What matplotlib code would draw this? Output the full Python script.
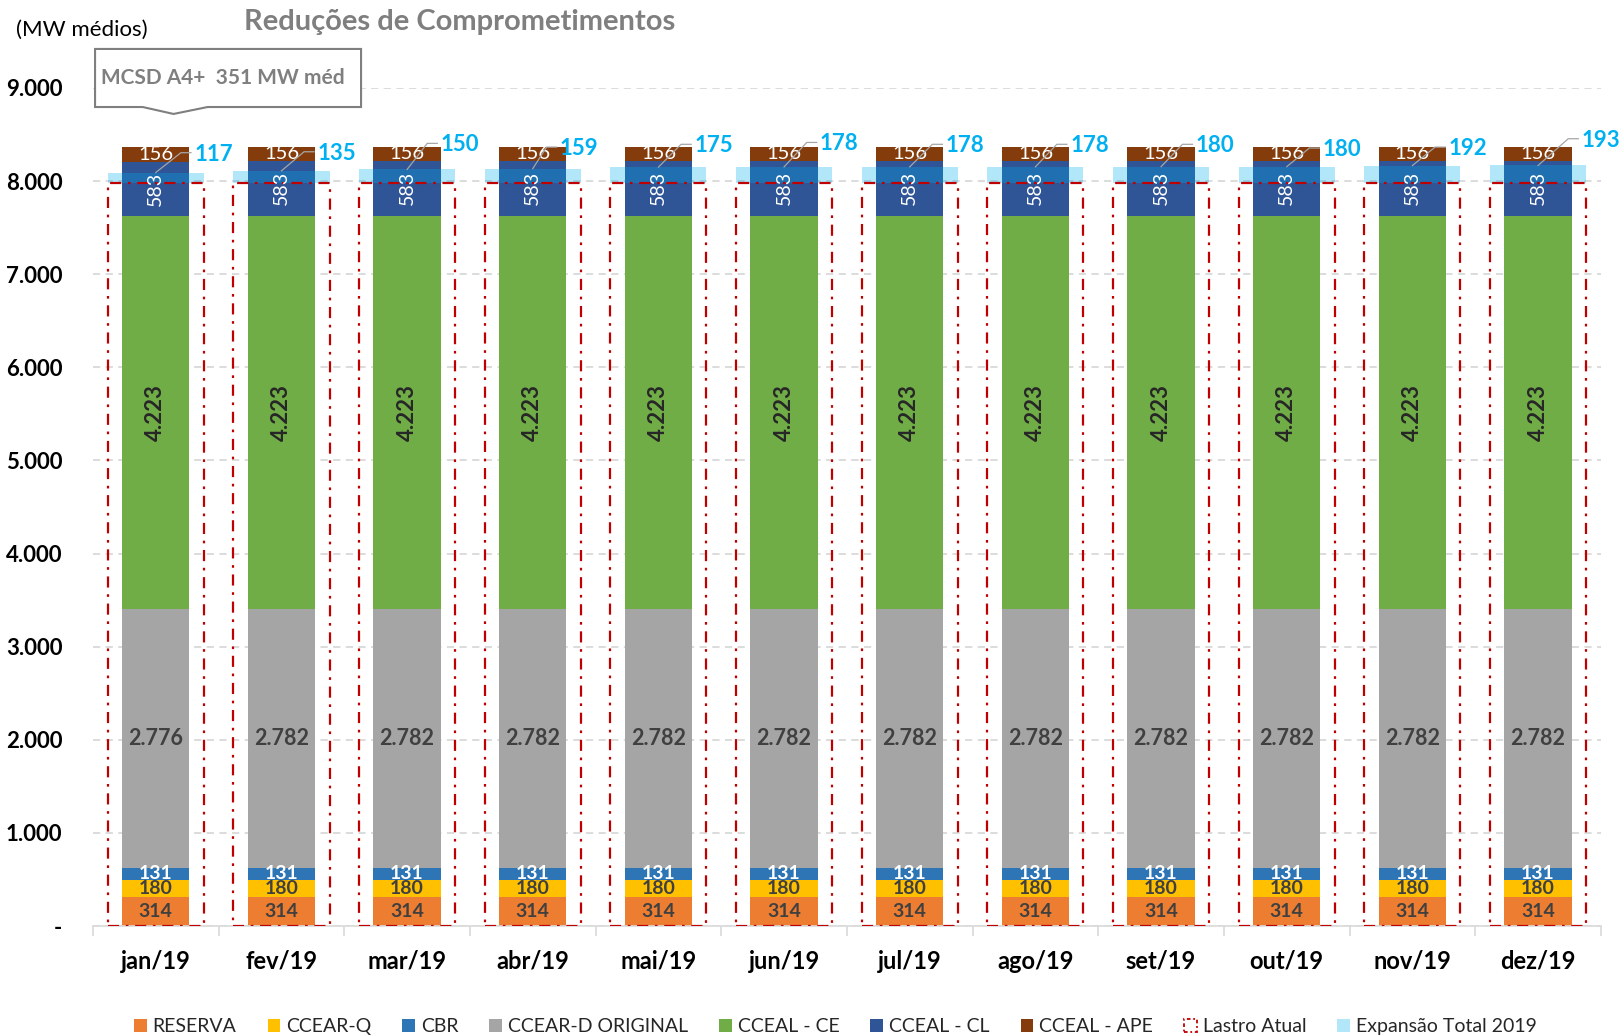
import numpy as np
import matplotlib.pyplot as plt
from matplotlib.patches import Polygon, Patch

plt.rcParams['font.family'] = ['Lato', 'DejaVu Sans']

# dados (MW médios)
meses = ['jan/19', 'fev/19', 'mar/19', 'abr/19', 'mai/19', 'jun/19',
         'jul/19', 'ago/19', 'set/19', 'out/19', 'nov/19', 'dez/19']
reserva = [314] * 12
ccear_q = [180] * 12
cbr = [131] * 12
ccear_d = [2776] + [2782] * 11
cceal_ce = [4223] * 12
cceal_cl = [583] * 12
cceal_ape = [156] * 12
lastro = [7975] * 12
expansao = [117, 135, 150, 159, 175, 178, 178, 178, 180, 180, 192, 193]

# posicao dos rotulos da expansao (estilo)
lab_dx = [0.46, 0.44, 0.42, 0.37, 0.44, 0.44, 0.44, 0.43, 0.43, 0.44, 0.44, 0.50]
lab_y = [8290, 8300, 8390, 8350, 8380, 8400, 8380, 8380, 8380, 8340, 8350, 8440]

series = [
    ('RESERVA', reserva, '#ED7D31', '#404040', 0, 'bold', 14),
    ('CCEAR-Q', ccear_q, '#FFC000', '#404040', 0, 'bold', 14),
    ('CBR', cbr, '#2E75B6', 'white', 0, 'bold', 14),
    ('CCEAR-D ORIGINAL', ccear_d, '#A5A5A5', '#404040', 0, 'bold', 15.5),
    ('CCEAL - CE', cceal_ce, '#70AD47', '#262626', 90, 'bold', 16),
    ('CCEAL - CL', cceal_cl, '#2F5597', 'white', 90, 'normal', 14),
    ('CCEAL - APE', cceal_ape, '#843C0C', 'white', 0, 'normal', 14.5),
]


def fmt(v):
    return f'{v:,}'.replace(',', '.')


fig = plt.figure(figsize=(16.22, 10.35), dpi=100)
ax = fig.add_axes([0.0573, 0.1053, 0.9297, 0.8097])

x = np.arange(len(meses))
bottom = np.zeros(len(meses))
handles = []
for nome, vals, cor, tcor, rot, peso, fs in series:
    vals = np.array(vals)
    ax.bar(x, vals, 0.535, bottom=bottom, color=cor, edgecolor='none', zorder=2)
    for xi, v, b0 in zip(x, vals, bottom):
        ax.text(xi, b0 + v / 2, fmt(v), ha='center', va='center', rotation=rot,
                color=tcor, fontsize=fs, fontweight=peso, zorder=6)
    handles.append(Patch(facecolor=cor, label=nome))
    bottom = bottom + vals

# expansao total 2019 (sobre o lastro)
ax.bar(x, expansao, 0.765, bottom=lastro, color='#00B0F0', alpha=0.3,
       edgecolor='none', zorder=4)
# lastro atual
ax.bar(x, lastro, 0.765, fill=False, edgecolor='#C00000', lw=1.6,
       linestyle=(0, (5, 3, 1.2, 3)), zorder=5)

for xi, e, lo, dx, ly in zip(x, expansao, lastro, lab_dx, lab_y):
    ax.plot([xi, xi + dx - 0.26, xi + dx - 0.18], [lo + e, ly + 15, ly + 15],
            color='#A6A6A6', lw=0.9, zorder=7)
    ax.text(xi + dx, ly, str(e), ha='center', va='center', color='#00B0F0',
            fontsize=16, fontweight='bold', zorder=7)

handles.append(Patch(facecolor='none', edgecolor='#C00000', lw=1.3,
                     linestyle=(0, (2, 1.5, 1, 1.5)), label='Lastro Atual'))
handles.append(Patch(facecolor='#00B0F0', alpha=0.3, label='Expansão Total 2019'))

ax.set_xlim(-0.5, 11.5)
ax.set_ylim(0, 9000)
ax.set_yticks(np.arange(0, 9001, 1000))
ax.set_yticklabels(['-'] + [fmt(v) for v in range(1000, 9001, 1000)],
                   fontsize=16, fontweight='bold')
ax.tick_params(axis='y', length=0, pad=22)
ax.set_xticks(x)
ax.set_xticklabels(meses, fontsize=17, fontweight='bold')
ax.set_xticks(np.arange(-0.5, 12, 1), minor=True)
ax.tick_params(axis='x', which='major', length=0, pad=17)
ax.tick_params(axis='x', which='minor', length=7, color='#D9D9D9', width=1.2)
ax.grid(axis='y', color='#D9D9D9', lw=1.3, linestyle=(0, (4, 3)), zorder=0)
ax.set_axisbelow(True)
for s in ['top', 'right', 'left']:
    ax.spines[s].set_visible(False)
ax.spines['bottom'].set_color('#D9D9D9')
ax.spines['bottom'].set_linewidth(1.2)

fig.legend(handles=handles, loc='lower center', bbox_to_anchor=(0.515, -0.017),
           ncol=9, frameon=False, fontsize=14, handlelength=0.65, handleheight=0.65,
           handletextpad=0.3, columnspacing=1.6, labelcolor='#262626')

# titulo e unidade
fig.text(0.2836, 0.979, 'Reduções de Comprometimentos', ha='center', va='center',
         fontsize=21, fontweight='bold', color='#7F7F7F')
fig.text(0.0099, 0.971, '(MW médios)', ha='left', va='center', fontsize=16)

# caixa MCSD
x0, x1, yt, yb = 0.0586, 0.2226, 0.9527, 0.8966
caixa = Polygon([(x0, yt), (x1, yt), (x1, yb), (0.128, yb), (0.107, 0.8899),
                 (0.088, yb), (x0, yb)], closed=True, facecolor='white',
                edgecolor='#7F7F7F', lw=1.5, transform=fig.transFigure, zorder=5)
fig.add_artist(caixa)
fig.text(0.0623, 0.9246, 'MCSD A4+  351 MW méd', ha='left', va='center',
         fontsize=15, fontweight='bold', color='#7F7F7F', zorder=6)

fig.savefig('out.png', dpi=100)
